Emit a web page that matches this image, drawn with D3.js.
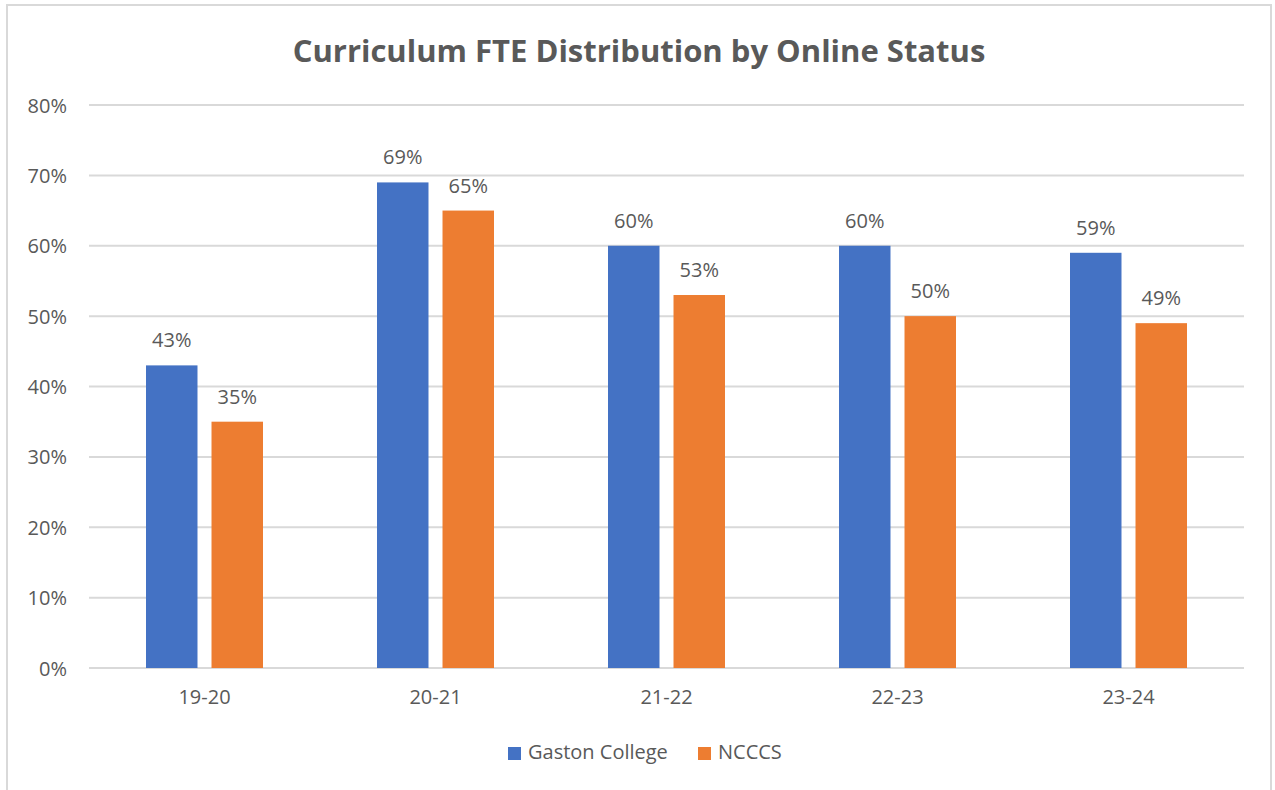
<html lang="en">
<head>
<meta charset="UTF-8">
<title>Curriculum FTE Distribution by Online Status</title>
<style>
  body { margin: 0; background: #fff; }
  text { font-family: "Open Sans", "Segoe UI", sans-serif; fill: #595959; }
  .grid line { stroke: #d9d9d9; stroke-width: 2px; }
</style>
</head>
<body>
<svg width="1275" height="790"></svg>
<script src="https://cdnjs.cloudflare.com/ajax/libs/d3/7.8.5/d3.min.js"></script>
<script>
var years = ["19-20", "20-21", "21-22", "22-23", "23-24"];
var seriesNames = ["Gaston College", "NCCCS"];
var gaston = [0.43, 0.69, 0.60, 0.60, 0.59];
var ncccs = [0.35, 0.65, 0.53, 0.50, 0.49];
var yTicks = [0, 0.1, 0.2, 0.3, 0.4, 0.5, 0.6, 0.7, 0.8];
var colors = ["#4472C4", "#ED7D31"];

(function () {
  'use strict';
  var svg = d3.select("svg");

  // chart frame
  svg.append("rect")
    .attr("x", 7).attr("y", 5)
    .attr("width", 1264).attr("height", 800)
    .attr("fill", "#fff")
    .attr("stroke", "#d9d9d9").attr("stroke-width", 2);

  var left = 89, right = 1244, top = 105, bottom = 668;

  var x0 = d3.scaleBand().domain(years).range([left, right])
    .paddingInner(0.4935).paddingOuter(0.4935 / 2);
  var x1 = d3.scaleBand().domain(seriesNames).range([0, x0.bandwidth()])
    .paddingInner(0.214);
  var y = d3.scaleLinear().domain([0, 0.8]).range([bottom, top]);
  var pct = d3.format(".0%");

  // gridlines
  svg.append("g").attr("class", "grid")
    .selectAll("line").data(yTicks).join("line")
    .attr("x1", left).attr("x2", right)
    .attr("y1", function (d) { return y(d); })
    .attr("y2", function (d) { return y(d); });

  // y axis labels
  var yAxis = svg.append("g")
    .attr("transform", "translate(" + left + ",0)")
    .call(d3.axisLeft(y).tickValues(yTicks).tickFormat(pct).tickSize(0).tickPadding(22));
  yAxis.select(".domain").remove();
  yAxis.selectAll("text").attr("font-size", 20).attr("font-family", null).attr("dy", "0.35em");

  // x axis labels
  var xAxis = svg.append("g")
    .attr("transform", "translate(0," + bottom + ")")
    .call(d3.axisBottom(x0).tickSize(0).tickPadding(22));
  xAxis.select(".domain").remove();
  xAxis.selectAll("text").attr("font-size", 20).attr("font-family", null);

  var rows = years.map(function (yr, i) {
    return { year: yr, values: [gaston[i], ncccs[i]] };
  });

  var groups = svg.append("g").selectAll("g").data(rows).join("g")
    .attr("transform", function (d) { return "translate(" + x0(d.year) + ",0)"; });

  var cells = groups.selectAll("g").data(function (d) {
    return d.values.map(function (v, j) { return { name: seriesNames[j], value: v, idx: j }; });
  }).join("g");

  cells.append("rect")
    .attr("x", function (d) { return x1(d.name); })
    .attr("y", function (d) { return y(d.value); })
    .attr("width", x1.bandwidth())
    .attr("height", function (d) { return bottom - y(d.value); })
    .attr("fill", function (d) { return colors[d.idx]; });

  cells.append("text")
    .attr("x", function (d) { return x1(d.name) + x1.bandwidth() / 2; })
    .attr("y", function (d) { return y(d.value) - 18; })
    .attr("text-anchor", "middle")
    .attr("font-size", 20)
    .text(function (d) { return pct(d.value); });

  // title
  svg.append("text")
    .attr("x", 639).attr("y", 62)
    .attr("text-anchor", "middle")
    .attr("font-size", 31).attr("font-weight", "bold")
    .text("Curriculum FTE Distribution by Online Status");

  // legend
  var legendX = [508, 698];
  var legend = svg.append("g").selectAll("g").data(seriesNames).join("g")
    .attr("transform", function (d, i) { return "translate(" + legendX[i] + ",747)"; });
  legend.append("rect").attr("width", 13).attr("height", 13)
    .attr("fill", function (d, i) { return colors[i]; });
  legend.append("text").attr("x", 20).attr("y", 12)
    .attr("font-size", 20)
    .text(function (d) { return d; });
})();
</script>
</body>
</html>
